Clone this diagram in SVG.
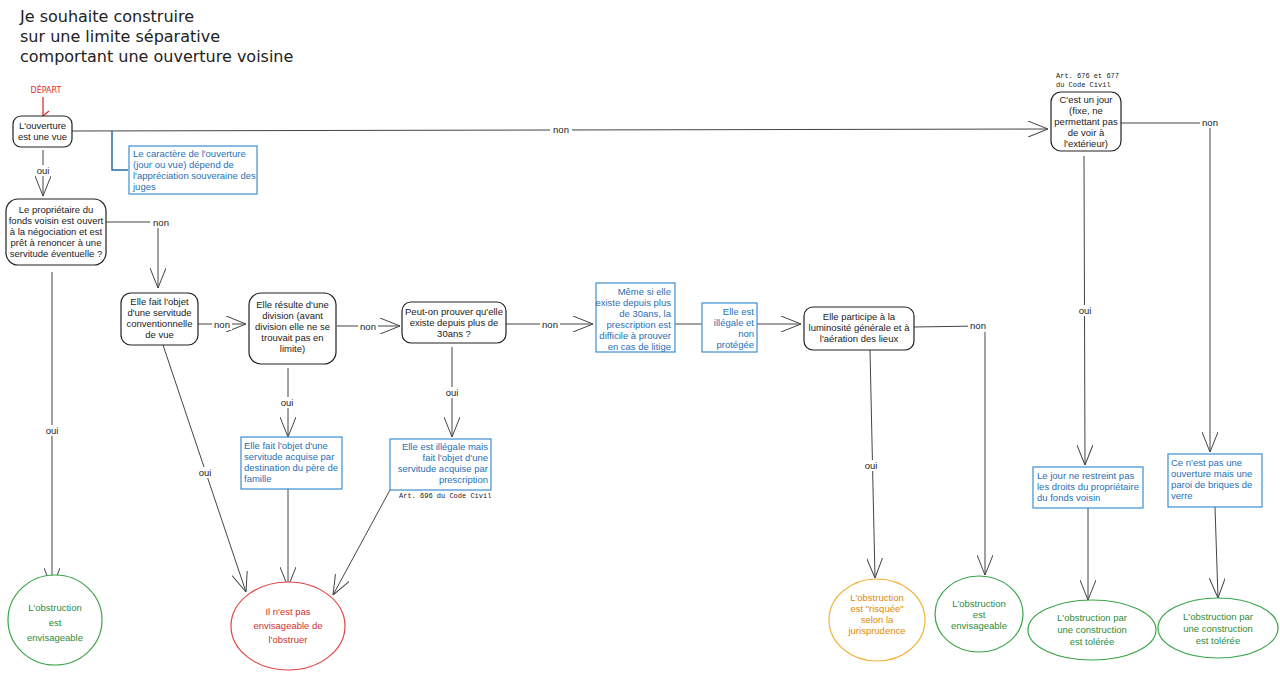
<svg xmlns="http://www.w3.org/2000/svg" width="1280" height="673" viewBox="0 0 1280 673">
<style>
.n{fill:#fff;stroke:#222;stroke-width:1.2}
.b{fill:#fff;stroke:#3d8fd0;stroke-width:1.2}
.t{font-family:"Liberation Sans",Arial,sans-serif;font-size:9.5px;fill:#222;text-anchor:middle}
.bt{font-family:"Liberation Sans",Arial,sans-serif;font-size:9.5px;fill:#1f6fb5}
.m{font-family:"Liberation Mono",monospace;font-size:7px;fill:#222}
.l{fill:none;stroke:#444;stroke-width:1}
.lb{font-family:"Liberation Sans",Arial,sans-serif;font-size:9.5px;fill:#222;text-anchor:middle}
.g{fill:#fff;stroke:#3aa548;stroke-width:1.2}
.gt{font-family:"Liberation Sans",Arial,sans-serif;font-size:9.5px;fill:#2e8b3a;text-anchor:middle}
</style>
<defs>
<marker id="a" viewBox="0 0 20 16" refX="20" refY="8" markerWidth="20" markerHeight="16" markerUnits="userSpaceOnUse" orient="auto"><path d="M0,0 L20,8 L0,16" fill="none" stroke="#444" stroke-width="1"/></marker>
<marker id="r" viewBox="0 0 12 12" refX="6" refY="11" markerWidth="12" markerHeight="12" markerUnits="userSpaceOnUse" orient="auto-start-reverse"><path d="M1,5 L6,11 L11,5" fill="none" stroke="#e03030" stroke-width="1.3"/></marker>
</defs>
<rect width="1280" height="673" fill="#fff"/>
<g id="title" font-family="'DejaVu Sans',sans-serif" font-size="16" fill="#222">
<text x="20" y="22">Je souhaite construire</text>
<text x="20" y="42">sur une limite séparative</text>
<text x="20" y="62">comportant une ouverture voisine</text>
</g>
<g id="connectors">
<text x="46" y="93" font-family="'DejaVu Sans',sans-serif" font-size="8" fill="#e03030" text-anchor="middle">DÉPART</text>
<path d="M43,97 V116" stroke="#e03030" stroke-width="1.3" fill="none" marker-end="url(#r)"/>
<path class="l" d="M72,131 L1048,129" marker-end="url(#a)"/>
<rect x="550" y="124" width="22" height="11" fill="#fff"/><text class="lb" x="561" y="133">non</text>
<path d="M112,131 V170 H128" fill="none" stroke="#2a6aa8" stroke-width="1.5"/>
<path class="l" d="M43,150 V196" marker-end="url(#a)"/>
<rect x="34" y="165" width="18" height="11" fill="#fff"/><text class="lb" x="43" y="174">oui</text>
<path class="l" d="M106,222 H158 V288" marker-end="url(#a)"/>
<rect x="150" y="217" width="22" height="11" fill="#fff"/><text class="lb" x="161" y="226">non</text>
<path class="l" d="M198,324 H246" marker-end="url(#a)"/>
<rect x="212" y="319" width="20" height="11" fill="#fff"/><text class="lb" x="222" y="328">non</text>
<path class="l" d="M337,326 H400" marker-end="url(#a)"/>
<rect x="358" y="321" width="20" height="11" fill="#fff"/><text class="lb" x="368" y="330">non</text>
<path class="l" d="M506,324 H593" marker-end="url(#a)"/>
<rect x="540" y="319" width="20" height="11" fill="#fff"/><text class="lb" x="550" y="328">non</text>
<path class="l" d="M675,324 H702"/>
<path class="l" d="M757,324 H801" marker-end="url(#a)"/>
<path class="l" d="M914,327 L978,326 H985 V575" marker-end="url(#a)"/>
<rect x="968" y="321" width="20" height="11" fill="#fff"/><text class="lb" x="978" y="329">non</text>
<path class="l" d="M870,350 L875,578" marker-end="url(#a)"/>
<rect x="862" y="460" width="18" height="11" fill="#fff"/><text class="lb" x="871" y="469">oui</text>
<path class="l" d="M1121,123 H1210 V452" marker-end="url(#a)"/>
<rect x="1200" y="117" width="20" height="11" fill="#fff"/><text class="lb" x="1210" y="126">non</text>
<path class="l" d="M1084,156 L1085,465" marker-end="url(#a)"/>
<rect x="1076" y="305" width="18" height="11" fill="#fff"/><text class="lb" x="1085" y="314">oui</text>
<path class="l" d="M1088,508 V600" marker-end="url(#a)"/>
<path class="l" d="M1215,507 L1218,598" marker-end="url(#a)"/>
<path class="l" d="M52,272 V588" marker-end="url(#a)"/>
<rect x="43" y="425" width="18" height="11" fill="#fff"/><text class="lb" x="52" y="434">oui</text>
<path class="l" d="M163,345 L246,592" marker-end="url(#a)"/>
<rect x="196" y="467" width="18" height="11" fill="#fff"/><text class="lb" x="205" y="476">oui</text>
<path class="l" d="M288,368 V437" marker-end="url(#a)"/>
<rect x="278" y="397" width="18" height="11" fill="#fff"/><text class="lb" x="287" y="406">oui</text>
<path class="l" d="M288,489 V587" marker-end="url(#a)"/>
<path class="l" d="M452,347 V437" marker-end="url(#a)"/>
<rect x="443" y="387" width="18" height="11" fill="#fff"/><text class="lb" x="452" y="396">oui</text>
<path class="l" d="M390,490 L333,595" marker-end="url(#a)"/>
</g>
<g id="n1"><rect class="n" x="13" y="116" width="59" height="31" rx="8"/><text class="t" x="42.5" y="129">L'ouverture</text><text class="t" x="42.5" y="140">est une vue</text></g>
<g id="note1"><rect class="b" x="129" y="146" width="128" height="48"/><text class="bt" x="133" y="157">Le caractère de l'ouverture</text><text class="bt" x="133" y="168">(jour ou vue) dépend de</text><text class="bt" x="133" y="179">l'appréciation souveraine des</text><text class="bt" x="133" y="190">juges</text></g>
<g id="n2"><rect class="n" x="6" y="199" width="100" height="66" rx="12"/><text class="t" x="56" y="213">Le propriétaire du</text><text class="t" x="56" y="224">fonds voisin est ouvert</text><text class="t" x="56" y="235">à la négociation et est</text><text class="t" x="56" y="246">prêt à renoncer à une</text><text class="t" x="56" y="257">servitude éventuelle ?</text></g>
<g id="n3"><rect class="n" x="121" y="293" width="77" height="52" rx="10"/><text class="t" x="159.5" y="305">Elle fait l'objet</text><text class="t" x="159.5" y="316">d'une servitude</text><text class="t" x="159.5" y="327">conventionnelle</text><text class="t" x="159.5" y="338">de vue</text></g>
<g id="n4"><rect class="n" x="249" y="293" width="87" height="71" rx="12"/><text class="t" x="292.5" y="308">Elle résulte d'une</text><text class="t" x="292.5" y="319">division (avant</text><text class="t" x="292.5" y="330">division elle ne se</text><text class="t" x="292.5" y="341">trouvait pas en</text><text class="t" x="292.5" y="352">limite)</text></g>
<g id="n5"><rect class="n" x="402" y="302" width="104" height="41" rx="9"/><text class="t" x="454" y="315">Peut-on prouver qu'elle</text><text class="t" x="454" y="326">existe depuis plus de</text><text class="t" x="454" y="337">30ans ?</text></g>
<g id="note6" text-anchor="end"><rect class="b" x="596" y="283" width="79" height="69"/><text class="bt" x="671" y="295" text-anchor="end">Même si elle</text><text class="bt" x="671" y="306" text-anchor="end">existe depuis plus</text><text class="bt" x="671" y="317" text-anchor="end">de 30ans, la</text><text class="bt" x="671" y="328" text-anchor="end">prescription est</text><text class="bt" x="671" y="339" text-anchor="end">difficile à prouver</text><text class="bt" x="671" y="350" text-anchor="end">en cas de litige</text></g>
<g id="note7"><rect class="b" x="702" y="303" width="55" height="49"/><text class="bt" x="754" y="315" text-anchor="end">Elle est</text><text class="bt" x="754" y="326" text-anchor="end">illégale et</text><text class="bt" x="754" y="337" text-anchor="end">non</text><text class="bt" x="754" y="348" text-anchor="end">protégée</text></g>
<g id="n8"><rect class="n" x="804" y="307" width="110" height="43" rx="9"/><text class="t" x="859" y="320">Elle participe à la</text><text class="t" x="859" y="331">luminosité générale et à</text><text class="t" x="859" y="342">l'aération des lieux</text></g>
<g id="n9"><text class="m" x="1056" y="78">Art. 676 et 677</text><text class="m" x="1056" y="87">du Code Civil</text><rect class="n" x="1051" y="92" width="70" height="59" rx="10"/><text class="t" x="1086" y="103">C'est un jour</text><text class="t" x="1086" y="114">(fixe, ne</text><text class="t" x="1086" y="125">permettant pas</text><text class="t" x="1086" y="136">de voir à</text><text class="t" x="1086" y="147">l'extérieur)</text></g>
<g id="note4"><rect class="b" x="241" y="437" width="101" height="52"/><text class="bt" x="244" y="449">Elle fait l'objet d'une</text><text class="bt" x="244" y="460">servitude acquise par</text><text class="bt" x="244" y="471">destination du père de</text><text class="bt" x="244" y="482">famille</text></g>
<g id="note5"><rect class="b" x="390" y="439" width="101" height="51"/><text class="bt" x="488" y="450" text-anchor="end">Elle est illégale mais</text><text class="bt" x="488" y="461" text-anchor="end">fait l'objet d'une</text><text class="bt" x="488" y="472" text-anchor="end">servitude acquise par</text><text class="bt" x="488" y="483" text-anchor="end">prescription</text><text class="m" x="399" y="498">Art. 696 du Code Civil</text></g>
<g id="note10"><rect class="b" x="1033" y="467" width="110" height="41"/><text class="bt" x="1037" y="479">Le jour ne restreint pas</text><text class="bt" x="1037" y="490">les droits du propriétaire</text><text class="bt" x="1037" y="501">du fonds voisin</text></g>
<g id="note11"><rect class="b" x="1168" y="454" width="94" height="53"/><text class="bt" x="1171" y="466">Ce n'est pas une</text><text class="bt" x="1171" y="477">ouverture mais une</text><text class="bt" x="1171" y="488">paroi de briques de</text><text class="bt" x="1171" y="499">verre</text></g>
<g id="e1"><ellipse class="g" cx="55" cy="620" rx="47" ry="45"/><text class="gt" x="55" y="611">L'obstruction</text><text class="gt" x="55" y="626">est</text><text class="gt" x="55" y="641">envisageable</text></g>
<g id="e2"><ellipse cx="288" cy="626" rx="57" ry="44" fill="#fff" stroke="#e04545" stroke-width="1.2"/><text class="t" x="288" y="615" fill="#d03030" style="fill:#d03030">Il n'est pas</text><text class="t" x="288" y="629" style="fill:#d03030">envisageable de</text><text class="t" x="288" y="643" style="fill:#d03030">l'obstruer</text></g>
<g id="e3"><ellipse cx="877" cy="620" rx="48" ry="41" fill="#fff" stroke="#f2b33a" stroke-width="1.2"/><text class="t" x="877" y="601" style="fill:#e08a00">L'obstruction</text><text class="t" x="877" y="612" style="fill:#e08a00">est "risquée"</text><text class="t" x="877" y="623" style="fill:#e08a00">selon la</text><text class="t" x="877" y="634" style="fill:#e08a00">jurisprudence</text></g>
<g id="e4"><ellipse class="g" cx="979" cy="614" rx="44" ry="38"/><text class="gt" x="979" y="607">L'obstruction</text><text class="gt" x="979" y="618">est</text><text class="gt" x="979" y="629">envisageable</text></g>
<g id="e5"><ellipse class="g" cx="1092" cy="630" rx="64" ry="30"/><text class="gt" x="1092" y="621">L'obstruction par</text><text class="gt" x="1092" y="633">une construction</text><text class="gt" x="1092" y="645">est tolérée</text></g>
<g id="e6"><ellipse class="g" cx="1218" cy="628" rx="60" ry="30"/><text class="gt" x="1218" y="620">L'obstruction par</text><text class="gt" x="1218" y="632">une construction</text><text class="gt" x="1218" y="644">est tolérée</text></g>
</svg>
